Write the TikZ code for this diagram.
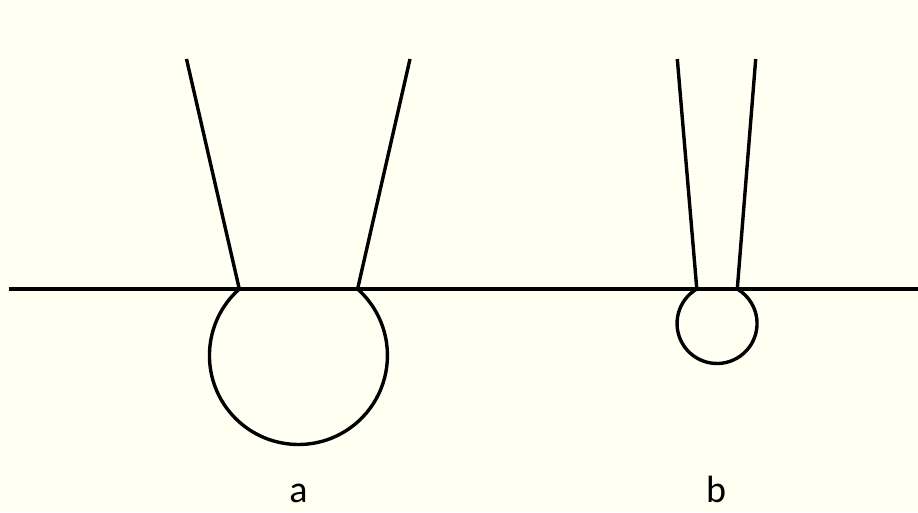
\documentclass[tikz,border=0pt]{standalone}
\usepackage{fontspec}
\setmainfont{Carlito}
\usepackage{tikz}

\definecolor{paper}{RGB}{255,255,242}

\begin{document}
\begin{tikzpicture}[
  x=1pt, y=1pt,
  wire/.style={line width=3.4pt, black},
  tag/.style={anchor=base, inner sep=0pt, font=\fontsize{38}{40}\selectfont}
]
\fill[paper] (0,0) rectangle (918,512);
\useasboundingbox (0,0) rectangle (918,512);

% surface
\coordinate (sl) at (8.7,223);
\coordinate (sr) at (918,223);
\draw[wire] (sl) -- (sr);

% wide drop (a)
\coordinate (al) at (239.3,223);
\coordinate (ar) at (357.7,223);
\coordinate (atl) at (186.5,453);
\coordinate (atr) at (410,453);
\draw[wire] (atl) -- (al) arc[start angle=131.65, end angle=408.35, radius=89] -- (atr);

% narrow drop (b)
\coordinate (bl) at (696.8,223);
\coordinate (br) at (737.2,223);
\coordinate (btl) at (677.3,453);
\coordinate (btr) at (755.7,453);
\draw[wire] (btl) -- (bl) arc[start angle=120.4, end angle=419.6, radius=40] -- (btr);

\node[tag] (la) at (298.5,10) {a};
\node[tag] (lb) at (716,10) {b};
\end{tikzpicture}
\end{document}
